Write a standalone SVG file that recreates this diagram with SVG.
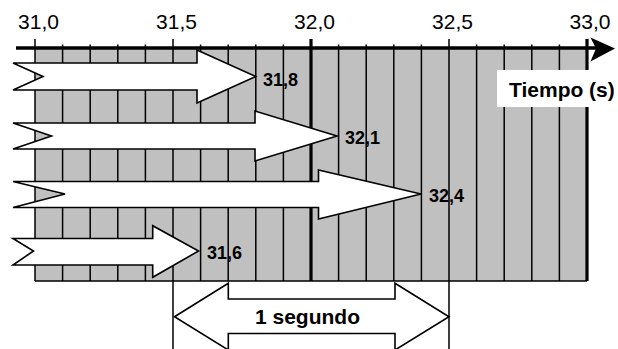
<svg xmlns="http://www.w3.org/2000/svg" width="618" height="349" viewBox="0 0 618 349">
<style>
.grid{stroke:#000;stroke-width:1.5;fill:none}
.thick{stroke:#000;stroke-width:3.2;fill:none}
.arr{fill:#fff;stroke:#000;stroke-width:1.6;stroke-linejoin:miter}
.ax{font-family:"Liberation Sans",Arial,sans-serif;font-size:21px;fill:#000}
.lb{font-family:"Liberation Sans",Arial,sans-serif;font-size:18px;font-weight:bold;fill:#000}
.big{font-family:"Liberation Sans",Arial,sans-serif;font-size:21px;font-weight:bold;fill:#000}
</style>
<rect width="618" height="349" fill="#fff"/>
<g id="grid">
<rect x="35" y="48" width="552" height="233" fill="#c0c0c0"/>
<path class="grid" d="M35,39V281 M62.6,44.5V281 M90.2,44.5V281 M117.8,44.5V281 M145.4,44.5V281 M173,39V349 M200.6,44.5V281 M228.2,44.5V281 M255.8,44.5V281 M283.4,44.5V281 M338.6,44.5V281 M366.2,44.5V281 M393.8,44.5V281 M421.4,44.5V281 M449,39V349 M476.6,44.5V281 M504.2,44.5V281 M531.8,44.5V281 M559.4,44.5V281 M35,281H587"/>
<path class="thick" d="M311,39V281 M587,39V281"/>
</g>
<g id="axis">
<line x1="16" y1="48" x2="598" y2="48" stroke="#000" stroke-width="3.5"/>
<polygon points="590.5,37.5 615,48.5 590.5,61.5 596,48.5" fill="#000"/>
<text class="ax" x="38.5" y="29" text-anchor="middle">31,0</text>
<text class="ax" x="176.5" y="29" text-anchor="middle">31,5</text>
<text class="ax" x="314.5" y="29" text-anchor="middle">32,0</text>
<text class="ax" x="452.5" y="29" text-anchor="middle">32,5</text>
<text class="ax" x="590" y="29" text-anchor="middle">33,0</text>
</g>
<g id="tiempo">
<rect x="497" y="70" width="121" height="37" fill="#fff"/>
<text class="big" x="509" y="97">Tiempo (s)</text>
</g>
<g id="arrow1">
<polygon class="arr" points="13,63 197,63 197,50 255.8,76.5 197,103 197,90 13,90 43,76.5"/>
<text class="lb" x="263" y="86">31,8</text>
</g>
<g id="arrow2">
<polygon class="arr" points="13,123 255,123 255,111 337,136 255,161 255,149 13,149 51.5,136"/>
<text class="lb" x="345" y="144">32,1</text>
</g>
<g id="arrow3">
<polygon class="arr" points="13,181.5 318.5,181.5 318.5,170 421,194 318.5,219 318.5,207.5 13,207.5 65,194"/>
<text class="lb" x="429" y="202">32,4</text>
</g>
<g id="arrow4">
<polygon class="arr" points="13,238.5 152.7,238.5 152.7,225.7 198.5,251 152.7,277.3 152.7,265 13,265 33.5,251"/>
<text class="lb" x="207" y="259">31,6</text>
</g>
<g id="segundo">
<polygon class="arr" points="174.5,316.7 228.3,283.3 228.3,299 395,299 395,283.3 449,316.7 395,350 395,333.5 228.3,333.5 228.3,350"/>
<text class="big" x="255" y="324">1 segundo</text>
</g>
</svg>
